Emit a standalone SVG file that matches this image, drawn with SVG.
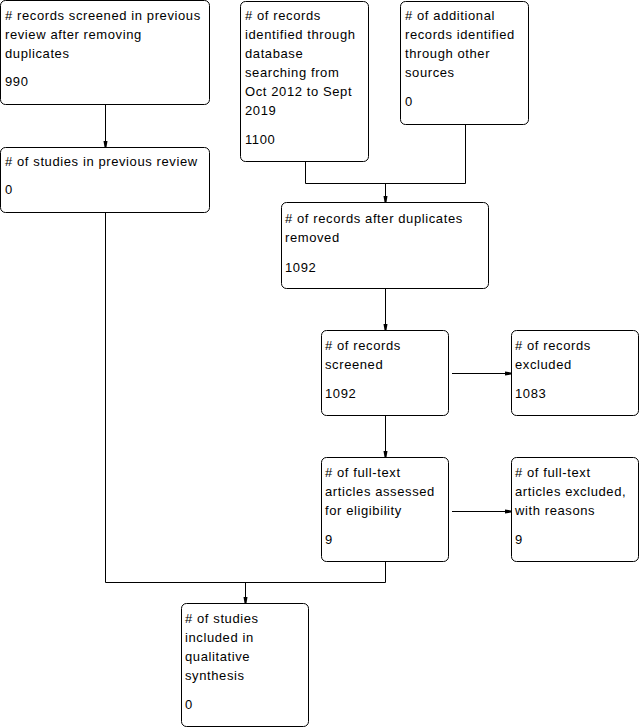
<svg xmlns="http://www.w3.org/2000/svg" width="642" height="728" viewBox="0 0 642 728">
<defs>
<style>
.box{fill:#fff;stroke:#000;stroke-width:1}
text{font-family:"Liberation Sans",Arial,sans-serif;font-size:13px;letter-spacing:0.6px;fill:#000}
.c{fill:none;stroke:#000;stroke-width:1}
</style>
<marker id="ah" markerWidth="6" markerHeight="6" refX="6" refY="3" orient="auto" markerUnits="userSpaceOnUse">
<path d="M0,1 L6,2 L6,4 L0,5 Z" fill="#000"/>
</marker>
</defs>
<rect width="642" height="728" fill="#fff"/>
<g id="connectors">
<path class="c" d="M105.5,104 V147" marker-end="url(#ah)"/>
<path class="c" d="M305.5,162 V183.5 H465.5 V125"/>
<path class="c" d="M385.5,183.5 V202" marker-end="url(#ah)"/>
<path class="c" d="M385.5,289 V330" marker-end="url(#ah)"/>
<path class="c" d="M452,373.5 H511" marker-end="url(#ah)"/>
<path class="c" d="M385.5,416 V457" marker-end="url(#ah)"/>
<path class="c" d="M452,511.5 H511" marker-end="url(#ah)"/>
<path class="c" d="M105.5,213 V582.5 H385.5 V562"/>
<path class="c" d="M245.5,582.5 V603" marker-end="url(#ah)"/>
</g>
<g id="n1">
<rect class="box" x="0.5" y="0.5" width="209" height="104" rx="5"/>
<text>
<tspan x="5" y="20"># records screened in previous</tspan>
<tspan x="5" y="39">review after removing</tspan>
<tspan x="5" y="58">duplicates</tspan>
<tspan x="5" y="86">990</tspan>
</text>
</g>
<g id="n2">
<rect class="box" x="0.5" y="147.5" width="209" height="65" rx="5"/>
<text><tspan x="5" y="166"># of studies in previous review</tspan><tspan x="5" y="194">0</tspan></text>
</g>
<g id="n3">
<rect class="box" x="240.5" y="1.5" width="128" height="160" rx="5"/>
<text>
<tspan x="245" y="20"># of records</tspan>
<tspan x="245" y="39">identified through</tspan>
<tspan x="245" y="58">database</tspan>
<tspan x="245" y="77">searching from</tspan>
<tspan x="245" y="96">Oct 2012 to Sept</tspan>
<tspan x="245" y="115">2019</tspan>
<tspan x="245" y="144">1100</tspan>
</text>
</g>
<g id="n4">
<rect class="box" x="400.5" y="1.5" width="128" height="123" rx="5"/>
<text>
<tspan x="405" y="20"># of additional</tspan>
<tspan x="405" y="39">records identified</tspan>
<tspan x="405" y="58">through other</tspan>
<tspan x="405" y="77">sources</tspan>
<tspan x="405" y="106">0</tspan>
</text>
</g>
<g id="n5">
<rect class="box" x="281.5" y="202.5" width="207" height="86" rx="5"/>
<text>
<tspan x="285" y="223"># of records after duplicates</tspan>
<tspan x="285" y="242">removed</tspan>
<tspan x="285" y="272">1092</tspan>
</text>
</g>
<g id="n6">
<rect class="box" x="321.5" y="330.5" width="127" height="85" rx="5"/>
<text>
<tspan x="325" y="350"># of records</tspan>
<tspan x="325" y="369">screened</tspan>
<tspan x="325" y="398">1092</tspan>
</text>
</g>
<g id="n7">
<rect class="box" x="511.5" y="330.5" width="127" height="85" rx="5"/>
<text>
<tspan x="515" y="350"># of records</tspan>
<tspan x="515" y="369">excluded</tspan>
<tspan x="515" y="398">1083</tspan>
</text>
</g>
<g id="n8">
<rect class="box" x="321.5" y="457.5" width="127" height="104" rx="5"/>
<text>
<tspan x="325" y="477"># of full-text</tspan>
<tspan x="325" y="496">articles assessed</tspan>
<tspan x="325" y="515">for eligibility</tspan>
<tspan x="325" y="544">9</tspan>
</text>
</g>
<g id="n9">
<rect class="box" x="511.5" y="457.5" width="127" height="104" rx="5"/>
<text>
<tspan x="515" y="477"># of full-text</tspan>
<tspan x="515" y="496">articles excluded,</tspan>
<tspan x="515" y="515">with reasons</tspan>
<tspan x="515" y="544">9</tspan>
</text>
</g>
<g id="n10">
<rect class="box" x="181.5" y="603.5" width="127" height="123" rx="5"/>
<text>
<tspan x="185" y="623"># of studies</tspan>
<tspan x="185" y="642">included in</tspan>
<tspan x="185" y="661">qualitative</tspan>
<tspan x="185" y="680">synthesis</tspan>
<tspan x="185" y="709">0</tspan>
</text>
</g>
</svg>
